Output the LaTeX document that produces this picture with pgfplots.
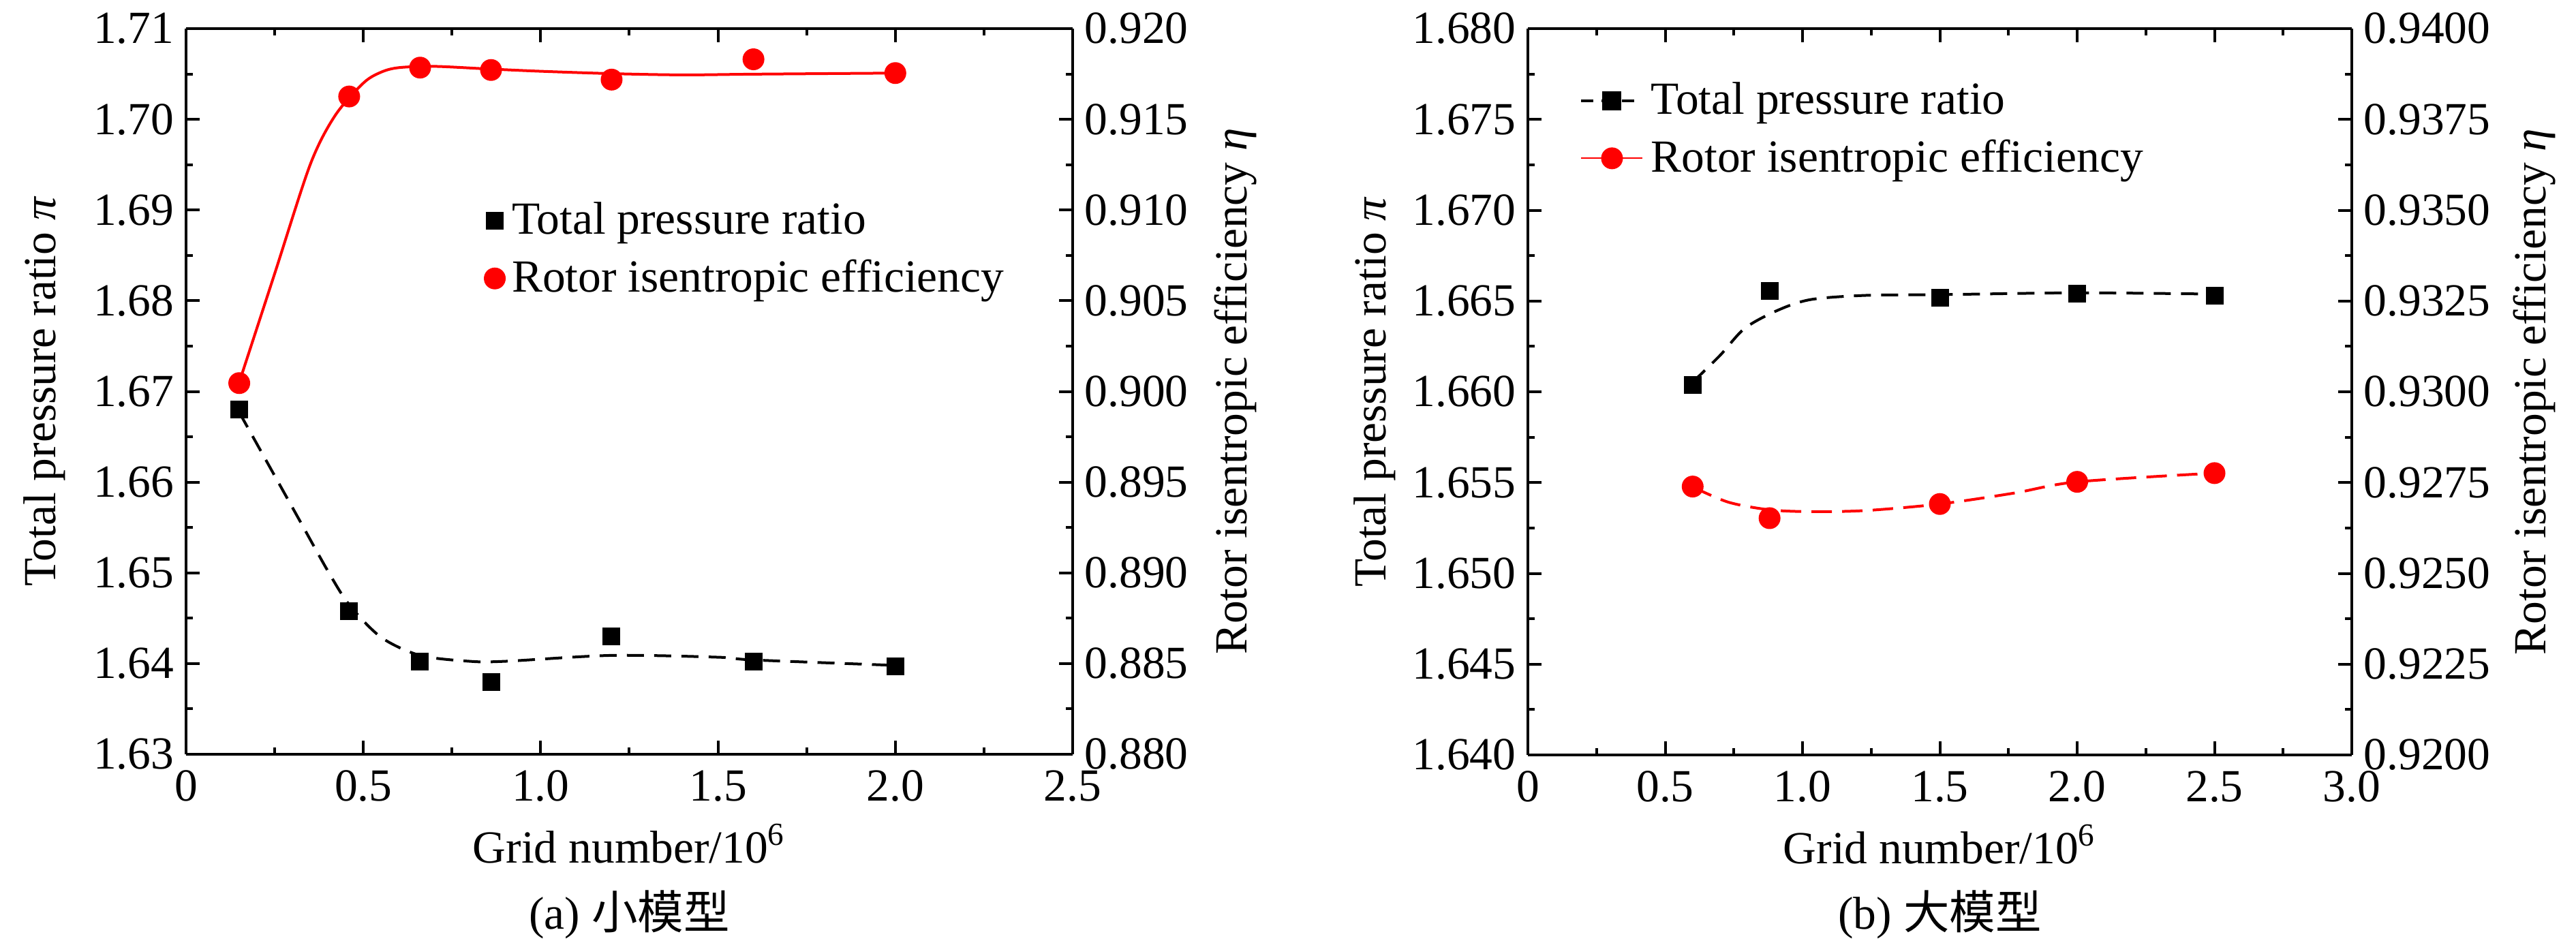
\documentclass[border=0pt]{standalone}
\usepackage{fontspec}
\setmainfont{Liberation Serif}
\newfontfamily\tnr{Liberation Serif}
\newfontfamily\cjk{Noto Sans CJK SC}
\usepackage{pgfplots}
\pgfplotsset{compat=1.18}
\definecolor{pred}{RGB}{255,0,0}
\newcommand{\ff}{\tnr\fontsize{13.5}{16}\selectfont}
\pgfplotsset{
  panel/.style={
    scale only axis,
    anchor=south west,
    tick align=inside,
    major tick length=4pt,
    minor tick length=2pt,
    axis line style={line width=0.8pt},
    every tick/.style={black,line width=0.8pt},
    font=\ff,
    tick label style={font=\ff},
    yticklabel style={inner ysep=0pt},
    xticklabel style={inner ysep=0pt,yshift=-4.5pt},
    label style={font=\ff},
    minor x tick num=1,
    minor y tick num=1,
  },
}
\begin{document}
\begin{tikzpicture}
\useasboundingbox (0,0) rectangle (756pt,276.6pt);
% ---------------- (a) ----------------
\begin{axis}[panel, at={(54.6pt,55.2pt)}, width=260.2pt, height=213pt,
  xmin=0, xmax=2.5, ymin=1.63, ymax=1.71,
  axis y line*=left,
  xtick={0,0.5,1,1.5,2,2.5}, xticklabels={0,0.5,1.0,1.5,2.0,2.5},
  ytick={1.63,1.64,1.65,1.66,1.67,1.68,1.69,1.70,1.71},
  yticklabels={1.63,1.64,1.65,1.66,1.67,1.68,1.69,1.70,1.71},
  xlabel={Grid number/10\textsuperscript{6}},
  ylabel={Total pressure ratio \textit{π}},
  xlabel style={at={(axis description cs:0.5,-0.150)},anchor=base},
  ylabel style={at={(axis description cs:-0.1353,0.5)},anchor=south,inner sep=0pt},
  title={(a) {\cjk 小模型}},
  every axis title/.style={at={(axis description cs:0.5,-0.241)},anchor=base,font=\ff},
]
\addplot[black, smooth, line width=0.8pt, dash pattern=on 5pt off 3pt, forget plot] coordinates {
(0.15,1.6677) (0.25,1.6607) (0.32,1.6558) (0.40,1.6502) (0.46,1.6465) (0.55,1.6429)
(0.66,1.6409) (0.80,1.64025) (0.90,1.64025) (1.20,1.6409) (1.50,1.6407) (1.60,1.6404) (2.00,1.6398)};
\addplot[only marks, mark=square*, mark size=2.4pt, black] coordinates {
(0.15,1.6680) (0.46,1.6458) (0.66,1.6402) (0.86,1.6380) (1.20,1.6430) (1.60,1.6402) (2.00,1.6397)};
\end{axis}
\begin{axis}[panel, at={(54.6pt,55.2pt)}, width=260.2pt, height=213pt,
  xmin=0, xmax=2.5, ymin=0.88, ymax=0.92,
  axis x line=none, axis y line*=right,
  ytick={0.88,0.885,0.89,0.895,0.9,0.905,0.91,0.915,0.92},
  yticklabels={0.880,0.885,0.890,0.895,0.900,0.905,0.910,0.915,0.920},
  ylabel={Rotor isentropic efficiency \textit{η}},
  ylabel style={at={(axis description cs:1.159,0.5)},anchor=north,inner sep=0pt},
  legend style={draw=none,fill=none,at={(axis description cs:0.3244,0.6953)},anchor=west,row sep=2pt,font=\ff},
  legend cell align=left,
  legend image code/.code={\draw[#1] plot coordinates {(0pt,0pt)};},
]
\addlegendimage{only marks, mark=square*, mark size=2.4pt, black}
\addlegendentry{Total pressure ratio}
\addplot[pred, smooth, line width=0.8pt, forget plot] coordinates {
(0.15,0.9005) (0.25,0.9065) (0.35,0.9125) (0.42,0.9152) (0.50,0.9170) (0.55,0.9176)
(0.60,0.91785) (0.70,0.91792) (0.85,0.91778) (1.0,0.91765) (1.2,0.91752) (1.4,0.91745) (1.6,0.91749) (2.0,0.91755)};
\addplot[only marks, mark=*, mark size=3pt, pred] coordinates {
(0.15,0.90046) (0.46,0.91626) (0.66,0.91785) (0.86,0.91772) (1.20,0.91719) (1.60,0.91831) (2.00,0.91755)};
\addlegendentry{Rotor isentropic efficiency}
\end{axis}
% ---------------- (b) ----------------
\begin{axis}[panel, at={(448.4pt,55pt)}, width=241.8pt, height=213.2pt,
  xmin=0, xmax=3, ymin=1.64, ymax=1.68,
  axis y line*=left,
  xtick={0,0.5,1,1.5,2,2.5,3}, xticklabels={0,0.5,1.0,1.5,2.0,2.5,3.0},
  ytick={1.64,1.645,1.65,1.655,1.66,1.665,1.67,1.675,1.68},
  yticklabels={1.640,1.645,1.650,1.655,1.660,1.665,1.670,1.675,1.680},
  xlabel={Grid number/10\textsuperscript{6}},
  ylabel={Total pressure ratio \textit{π}},
  xlabel style={at={(axis description cs:0.5,-0.150)},anchor=base},
  ylabel style={at={(axis description cs:-0.160,0.5)},anchor=south,inner sep=0pt},
  title={(b) {\cjk 大模型}},
  every axis title/.style={at={(axis description cs:0.5,-0.240)},anchor=base,font=\ff},
]
\addplot[black, smooth, line width=0.8pt, dash pattern=on 5pt off 3pt, forget plot] coordinates {
(0.60,1.66053) (0.70,1.66201) (0.79,1.66350) (0.91,1.66449) (1.03,1.66508) (1.23,1.66531)
(1.50,1.66535) (2.00,1.66545) (2.50,1.66538)};
\addplot[only marks, mark=square*, mark size=2.4pt, black] coordinates {
(0.60,1.66036) (0.88,1.66554) (1.50,1.66518) (2.00,1.66541) (2.50,1.66531)};
\end{axis}
\begin{axis}[panel, at={(448.4pt,55pt)}, width=241.8pt, height=213.2pt,
  xmin=0, xmax=3, ymin=0.92, ymax=0.94,
  axis x line=none, axis y line*=right,
  ytick={0.92,0.9225,0.925,0.9275,0.93,0.9325,0.935,0.9375,0.94},
  yticklabels={0.9200,0.9225,0.9250,0.9275,0.9300,0.9325,0.9350,0.9375,0.9400},
  ylabel={Rotor isentropic efficiency \textit{η}},
  ylabel style={at={(axis description cs:1.195,0.5)},anchor=north,inner sep=0pt},
  legend style={draw=none,fill=none,at={(axis description cs:0.050,0.861)},anchor=west,row sep=2pt,font=\ff},
  legend cell align=left,
  legend image code/.code={\draw[#1] (0pt,0pt) -- (18pt,0pt);
     \draw[#1,mark repeat=2,mark phase=2] plot coordinates {(0pt,0pt) (9pt,0pt) (18pt,0pt)};},
]
\addlegendimage{black, line width=0.8pt, dash pattern=on 3.5pt off 2.5pt, mark=square*, mark size=2.4pt, mark options={solid}}
\addlegendentry{Total pressure ratio}
\addplot[pred, smooth, line width=0.8pt, dash pattern=on 6pt off 3pt, forget plot] coordinates {
(0.60,0.92738) (0.73,0.92696) (0.88,0.92675) (1.03,0.92670) (1.23,0.92673) (1.50,0.92691)
(1.77,0.92721) (2.00,0.92752) (2.50,0.92776)};
\addplot[only marks, mark=*, mark size=3pt, pred] coordinates {
(0.60,0.92739) (0.88,0.92652) (1.50,0.92691) (2.00,0.92752) (2.50,0.92776)};
\addlegendimage{pred, line width=0.8pt, dash pattern=on 3.5pt off 2.5pt, mark=*, mark size=3pt, mark options={solid}}
\addlegendentry{Rotor isentropic efficiency}
\end{axis}
\end{tikzpicture}
\end{document}
